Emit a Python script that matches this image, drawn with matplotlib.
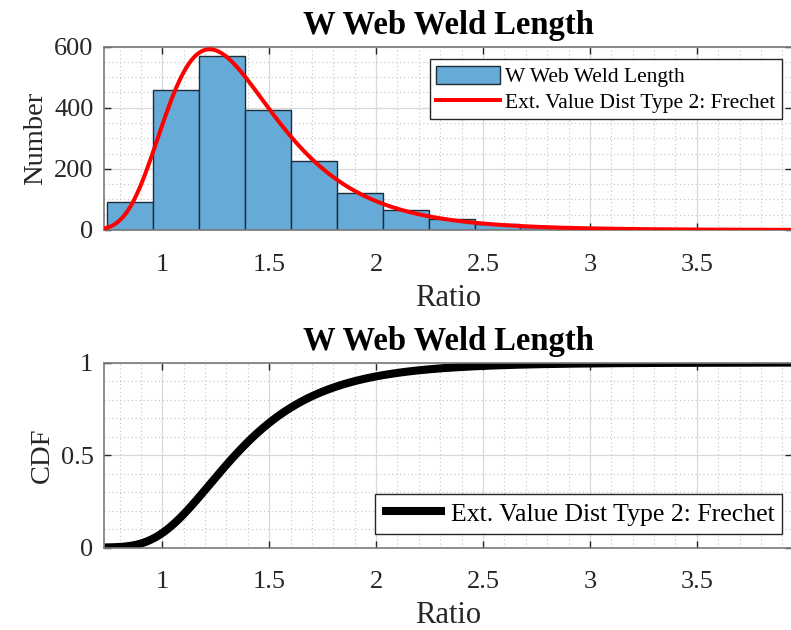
import numpy as np
import matplotlib
matplotlib.use("Agg")
import matplotlib.pyplot as plt
from matplotlib.ticker import MultipleLocator

# Histogram of weld length ratios
bin_start = 0.7426
bin_width = 0.2147
counts = [92, 457, 568, 394, 225, 121, 64, 35, 18, 10, 6, 4, 2, 2, 1]

# Fitted extreme value (type 2, Frechet) parameters
shape_k = 0.08
scale_sigma = 0.268
loc_mu = 1.2416

x_min, x_max = 0.7297, 3.945
title_text = "W Web Weld Length"
hist_label = "W Web Weld Length"
fit_label = "Ext. Value Dist Type 2: Frechet"
x_ticks = [1, 1.5, 2, 2.5, 3, 3.5]
x_ticklabels = ["1", "1.5", "2", "2.5", "3", "3.5"]
count_ticks = [0, 200, 400, 600]
cdf_ticks = [0, 0.5, 1]
cdf_ticklabels = ["0", "0.5", "1"]


def gev_pdf(x, k, s, m):
    y = 1 + k * (x - m) / s
    out = np.zeros_like(x)
    ok = y > 0
    out[ok] = (1 / s) * y[ok] ** (-1 - 1 / k) * np.exp(-y[ok] ** (-1 / k))
    return out


def gev_cdf(x, k, s, m):
    y = 1 + k * (x - m) / s
    out = np.zeros_like(x)
    ok = y > 0
    out[ok] = np.exp(-y[ok] ** (-1 / k))
    return out


FONT = ["Liberation Serif", "DejaVu Serif"]
plt.rcParams["font.family"] = FONT

fig = plt.figure(figsize=(7.91, 6.30), dpi=100)
W, H = 791.0, 630.0
ax1 = fig.add_axes([104.5 / W, 1 - 230 / H, (792 - 104.5) / W, 183.5 / H])
ax2 = fig.add_axes([104.5 / W, 1 - 547.5 / H, (792 - 104.5) / W, 185 / H])

edges = bin_start + bin_width * np.arange(len(counts) + 1)
xs = np.linspace(x_min, x_max, 600)
total = float(np.sum(counts))

spine_col = "#7a7a7a"
text_col = "#262626"


def style(ax):
    ax.set_xlim(x_min, x_max)
    ax.xaxis.set_minor_locator(MultipleLocator(0.1))
    ax.grid(which="major", color="#d9d9d9", linewidth=0.9, linestyle="-")
    ax.grid(which="minor", color="#c4c4c4", linewidth=0.8, linestyle=(0, (1, 2.5)))
    ax.set_axisbelow(True)
    for sp in ax.spines.values():
        sp.set_color(spine_col)
        sp.set_linewidth(1.2)
    ax.tick_params(which="both", direction="in", top=True, right=True,
                   color=text_col, labelsize=19, labelcolor=text_col)
    ax.tick_params(which="major", length=5, width=1.0)
    ax.tick_params(which="minor", length=0)
    ax.tick_params(axis="x", pad=17)
    ax.tick_params(axis="y", pad=8)
    ax.set_xticks(x_ticks)
    ax.set_xticklabels(x_ticklabels)
    ax.set_xlabel("Ratio", fontsize=22, color=text_col, labelpad=6)
    ax.set_title(title_text, fontsize=23.5, fontweight="bold", pad=9)


legend_kw = dict(frameon=True, fancybox=False, edgecolor=text_col,
                 framealpha=1, borderpad=0.3, handleheight=0.9,
                 labelspacing=0.2, borderaxespad=0)

# Top panel: histogram with fitted density
bars = ax1.bar(edges[:-1], counts, width=bin_width, align="edge",
               color="#66aad8", edgecolor="#1e2d38", linewidth=1.0,
               label=hist_label, zorder=2)
line, = ax1.plot(xs, gev_pdf(xs, shape_k, scale_sigma, loc_mu) * total * bin_width,
                 color="#ff0000", linewidth=2.9, label=fit_label, zorder=3)
ax1.set_ylim(0, 600)
ax1.set_yticks(count_ticks)
ax1.yaxis.set_minor_locator(MultipleLocator(50))
ax1.set_ylabel("Number", fontsize=20.5, color=text_col, labelpad=4)
style(ax1)
leg1 = ax1.legend([bars, line], [hist_label, fit_label], loc="upper right",
                  bbox_to_anchor=(0.9855, 0.93), fontsize=15.5,
                  handlelength=2.95, handletextpad=0.25, **legend_kw)
leg1.get_frame().set_linewidth(1.0)

# Bottom panel: cumulative distribution
ax2.plot(xs, gev_cdf(xs, shape_k, scale_sigma, loc_mu), color="black",
         linewidth=5.8, label=fit_label, solid_capstyle="butt")
ax2.set_ylim(0, 1)
ax2.set_yticks(cdf_ticks)
ax2.set_yticklabels(cdf_ticklabels)
ax2.yaxis.set_minor_locator(MultipleLocator(0.1))
ax2.set_ylabel("CDF", fontsize=20.5, color=text_col, labelpad=4)
style(ax2)
leg2 = ax2.legend(loc="lower right", bbox_to_anchor=(0.9855, 0.075),
                  fontsize=18.5, handlelength=2.45, handletextpad=0.2,
                  **legend_kw)
leg2.get_frame().set_linewidth(1.0)

fig.savefig("out.png", dpi=100, facecolor="white")
